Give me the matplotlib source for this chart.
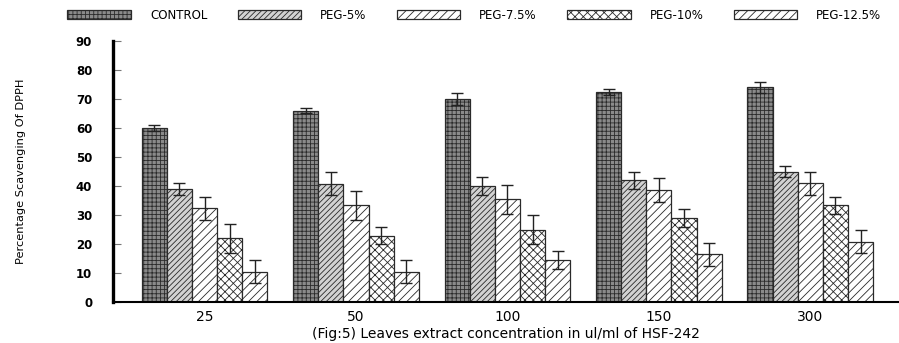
import numpy as np
import matplotlib.pyplot as plt

# data
concentrations = ["25", "50", "100", "150", "300"]
series_names = ["CONTROL", "PEG-5%", "PEG-7.5%", "PEG-10%", "PEG-12.5%"]
control = [60.0, 66.0, 70.0, 72.5, 74.0]
peg5 = [39.0, 40.8, 40.0, 42.0, 45.0]
peg75 = [32.3, 33.4, 35.5, 38.6, 41.0]
peg10 = [22.0, 22.9, 25.0, 29.0, 33.3]
peg125 = [10.5, 10.5, 14.5, 16.5, 20.8]
err_control = [1.0, 0.8, 2.0, 1.0, 2.0]
err_peg5 = [2.0, 4.0, 3.0, 3.0, 2.0]
err_peg75 = [4.0, 5.0, 5.0, 4.0, 4.0]
err_peg10 = [5.0, 3.0, 5.0, 3.0, 3.0]
err_peg125 = [4.0, 4.0, 3.0, 4.0, 4.0]

values = [control, peg5, peg75, peg10, peg125]
errors = [err_control, err_peg5, err_peg75, err_peg10, err_peg125]
faces = ["#8a8a8a", "#d2d2d2", "white", "white", "white"]
hatches = ["++++", "//////", "////", "xxxx", "////"]

plt.rcParams["hatch.linewidth"] = 0.6

fig = plt.figure(figsize=(8.99, 3.43), dpi=100)
ax = fig.add_axes([0.1257, 0.1195, 0.8733, 0.761])

x = np.arange(len(concentrations))
w = 0.166
for i, (vals, errs) in enumerate(zip(values, errors)):
    ax.bar(x + (i - 2) * w, vals, w, color=faces[i], hatch=hatches[i],
           edgecolor="#2a2a2a", linewidth=0.9, label=series_names[i])
    ax.errorbar(x + (i - 2) * w, vals, yerr=errs, fmt="none", ecolor="#222222",
                elinewidth=1, capsize=4, capthick=1)

ax.set_xlim(-0.605, 4.58)
ax.set_ylim(0, 90)
ax.set_yticks(range(0, 91, 10))
ax.set_xticks(x)
ax.set_xticklabels(concentrations, fontsize=10)
ax.tick_params(axis="y", direction="in", length=6, width=0.8, color="#777777",
               pad=15, labelsize=8.5)
for t in ax.get_yticklabels():
    t.set_fontweight("bold")
ax.tick_params(axis="x", length=0, pad=6)

ax.spines["top"].set_visible(False)
ax.spines["right"].set_visible(False)
ax.spines["left"].set_linewidth(2.4)
ax.spines["bottom"].set_linewidth(1.5)

ax.set_xlabel("(Fig:5) Leaves extract concentration in ul/ml of HSF-242",
              fontsize=10, labelpad=2)
ax.set_ylabel("Percentage Scavenging Of DPPH", fontsize=8.2, labelpad=36)

fig.legend(loc="center left", bbox_to_anchor=(0.075, 0.956), ncol=5, frameon=False,
           fontsize=8.5, handlelength=5.4, handleheight=0.85, handletextpad=1.6,
           columnspacing=2.55, borderpad=0, borderaxespad=0)

fig.savefig("out.png", dpi=100)
